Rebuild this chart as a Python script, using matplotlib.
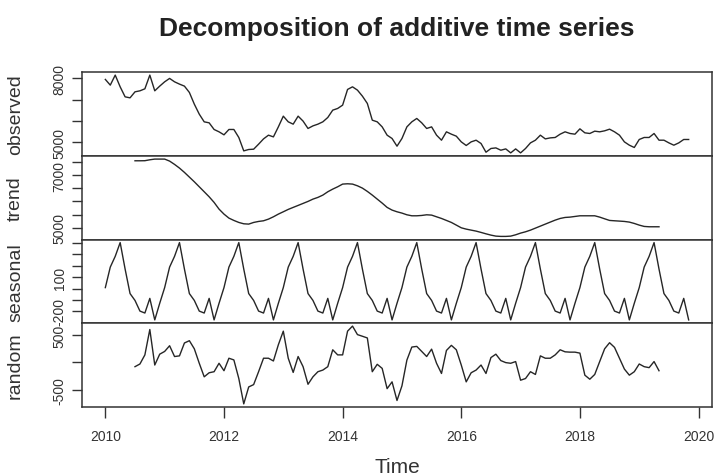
import numpy as np
import matplotlib
matplotlib.use("Agg")
import matplotlib.pyplot as plt

plt.rcParams['font.family'] = ['Liberation Sans', 'DejaVu Sans']

START_YEAR = 2010
FREQ = 12

# monthly observations, Jan 2010 .. Nov 2019
observed = [
    7953, 7686, 8155, 7606, 7137, 7090, 7372, 7419, 7513, 8155, 7419, 7639,
    7841, 8000, 7841, 7733, 7639, 7343, 6795, 6326, 5966, 5919, 5608, 5498,
    5357, 5608, 5608, 5233, 4605, 4670, 4684, 4919, 5167, 5341, 5261, 5730,
    6232, 5966, 5857, 6232, 6000, 5655, 5777, 5857, 5966, 6170, 6513, 6593,
    6748, 7484, 7606, 7451, 7170, 6827, 6044, 5966, 5730, 5341, 5186, 4825,
    5186, 5730, 5966, 6124, 5919, 5655, 5730, 5341, 5106, 5498, 5388, 5294,
    5027, 4858, 5027, 5106, 4951, 4543, 4717, 4745, 4637, 4698, 4511, 4698,
    4511, 4717, 4980, 5106, 5341, 5167, 5214, 5233, 5388, 5498, 5420, 5388,
    5638, 5451, 5420, 5529, 5498, 5545, 5622, 5498, 5341, 5027, 4872, 4764,
    5139, 5233, 5233, 5420, 5106, 5106, 4980, 4872, 4980, 5139, 5139,
]

# centred 12-month moving average, Jul 2010 .. May 2019
trend = [
    7542, 7542, 7545, 7580, 7606, 7606,
    7606, 7530, 7405, 7265, 7102, 6924, 6746, 6557, 6368, 6178, 5965, 5711,
    5522, 5370, 5282, 5206, 5155, 5143, 5206, 5244, 5269, 5332, 5420, 5522,
    5610, 5700, 5776, 5851, 5927, 6003, 6090, 6155, 6242, 6368, 6469, 6557,
    6659, 6671, 6659, 6594, 6507, 6382, 6242, 6090, 5939, 5776, 5674, 5610,
    5560, 5496, 5458, 5458, 5471, 5496, 5484, 5420, 5357, 5282, 5206, 5105,
    5003, 4953, 4915, 4878, 4828, 4775, 4726, 4688, 4677, 4677, 4688, 4738,
    4802, 4852, 4915, 4991, 5067, 5143, 5219, 5294, 5357, 5395, 5408, 5433,
    5458, 5458, 5458, 5458, 5408, 5344, 5282, 5269, 5257, 5244, 5219, 5168,
    5105, 5055, 5042, 5042, 5042,
]
trend_start = 6  # months after the first observation

# seasonal figure, Jan .. Dec
seasonal_figure = [8, 187, 281, 401, 170, -44, -104, -197, -214, -86, -274, -129]

# remainder, same span as the trend
random = [
    -80, -31, 135, 598, -50, 148,
    198, 302, 105, 117, 352, 394, 246, -18, -265, -191, -172, -18,
    -154, 74, 43, -296, -759, -450, -407, -172, 74, 74, 24, 320,
    568, 74, -185, 105, -80, -401, -265, -172, -142, -80, 228, 135,
    135, 568, 660, 505, 475, 444, -172, -37, -111, -481, -357, -697,
    -430, 40, 278, 290, 198, 105, 240, -18, -204, 216, 309, 228,
    -50, -357, -191, -142, -50, -204, 86, 148, 31, -6, -18, 13,
    -327, -296, -172, -222, 117, 74, 74, 135, 228, 191, 185, 185,
    167, -235, -309, -222, 13, 246, 357, 272, 74, -124, -235, -172,
    -31, -80, -98, 13, -154,
]

obs_labels = {5000: "5000", 6000: "", 7000: "", 8000: "8000"}
trend_labels = {5000: "5000", 5500: "", 6000: "", 6500: "", 7000: "7000", 7500: ""}
seas_labels = {-200: "-200", -100: "", 0: "", 100: "100", 200: "", 300: "", 400: ""}
rand_labels = {-500: "-500", 0: "", 500: "500"}

n_obs = len(observed)
t_obs = START_YEAR + np.arange(n_obs) / FREQ
t_trend = START_YEAR + (trend_start + np.arange(len(trend))) / FREQ
seasonal = np.resize(seasonal_figure, n_obs)

W, H = 714, 477
fig = plt.figure(figsize=(W / 100, H / 100), dpi=100)

left, right = 82, 712
tops = [73, 157, 240.5, 324, 408]

span = t_obs[-1] - t_obs[0]
xlim = (t_obs[0] - 0.04 * span, t_obs[-1] + 0.04 * span)

panels = [
    ("observed", t_obs, observed, obs_labels),
    ("trend", t_trend, trend, trend_labels),
    ("seasonal", t_obs, seasonal, seas_labels),
    ("random", t_trend, random, rand_labels),
]

line_col = "#262626"
axes = []
for i, (name, tt, vals, labels) in enumerate(panels):
    y0, y1 = tops[i], tops[i + 1]
    ax = fig.add_axes([left / W, 1 - y1 / H, (right - left) / W, (y1 - y0) / H])
    ax.plot(tt, vals, color=line_col, lw=1.0)
    lo, hi = min(vals), max(vals)
    pad = 0.04 * (hi - lo)
    ax.set_ylim(lo - pad, hi + pad)
    ax.set_xlim(*xlim)
    ax.set_yticks(list(labels.keys()))
    ax.set_yticklabels(list(labels.values()))
    plt.setp(ax.get_yticklabels(), rotation=90, va="center")
    ax.tick_params(axis="y", direction="out", length=7, width=1, color="#333333",
                   labelsize=10, pad=4, labelcolor="#333333")
    ax.set_ylabel(name, fontsize=14, color="#333333")
    ax.yaxis.set_label_coords(-0.092, 0.5)
    for sp in ax.spines.values():
        sp.set_color("#333333")
        sp.set_linewidth(1.1)
    if i < 3:
        ax.tick_params(axis="x", bottom=False, labelbottom=False)
    axes.append(ax)

bottom_ax = axes[-1]
bottom_ax.set_xticks(np.arange(2010, 2021, 2))
bottom_ax.tick_params(axis="x", direction="out", length=8, width=1, color="#333333",
                      labelsize=10, pad=8, labelcolor="#333333")
bottom_ax.set_xlabel("Time", fontsize=15, color="#333333", labelpad=10)

# title centred over the plotting region
fig.text((left + right) / 2 / W, 1 - 29 / H, "Decomposition of additive time series",
         fontsize=19, fontweight="bold", color="#222222", ha="center", va="center")

fig.savefig("out.png", dpi=100)
